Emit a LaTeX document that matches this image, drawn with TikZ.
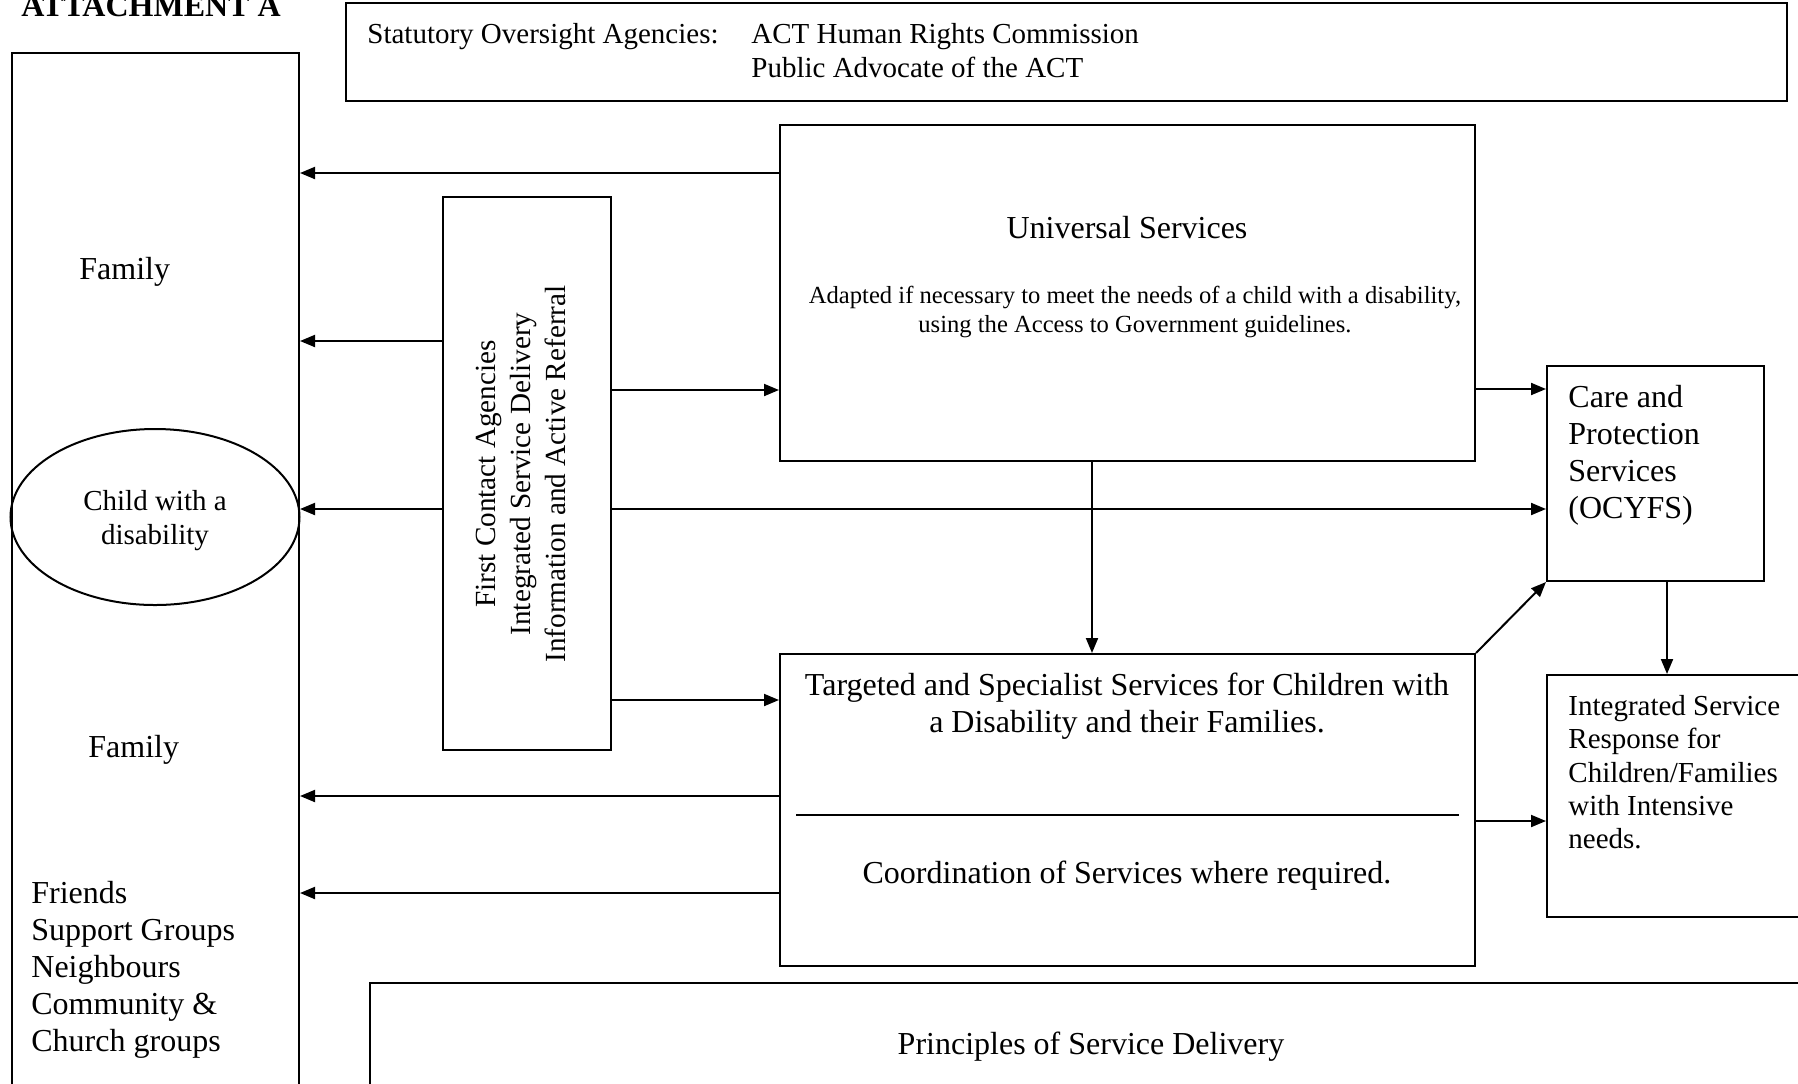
\documentclass[tikz,border=0pt]{standalone}
\usepackage{fontspec}
\setmainfont{Liberation Serif}
\usetikzlibrary{arrows.meta,fit,shapes.geometric}
\begin{document}
\begin{tikzpicture}[x=0.5pt,y=-0.5pt,
  box/.style={draw,line width=1pt,inner sep=0pt},
  arr/.style={line width=1pt,-{Triangle[length=7.5pt,width=6pt]}},
  txt/.style={inner sep=0pt,font=\fontsize{16}{18.5}\selectfont},
  stxt/.style={inner sep=0pt,font=\fontsize{14.5}{17}\selectfont},
  smalltxt/.style={inner sep=0pt,font=\fontsize{12.3}{14.5}\selectfont}]
\useasboundingbox (0,0) rectangle (1798,1083);
\clip (0,0) rectangle (1798,1083);

% title
\node[inner sep=0pt,font=\bfseries\fontsize{16}{18.5}\selectfont,anchor=base west] (att) at (21,16) {ATTACHMENT A};

% statutory oversight
\node[box,fit={(346,3.4) (1787,101)}] (stat) {};
\node[stxt,anchor=base west] (statlbl) at (367,43) {Statutory Oversight Agencies:};
\node[stxt,anchor=base west] (stat1) at (751,43) {ACT Human Rights Commission};
\node[stxt,anchor=base west] (stat2) at (751,77) {Public Advocate of the ACT};

% left column
\node[box,fit={(11.5,53) (299,1110)}] (lb) {};
\node[txt,anchor=base west] (fam1) at (79,279) {Family};
\node[txt,anchor=base west] (fam2) at (88,757) {Family};
\node[txt,align=left,anchor=north west] (friends) at (31,881)
  {Friends\\Support Groups\\Neighbours\\Community \&\\Church groups};
\node[draw,ellipse,line width=1pt,minimum width=144.5pt,minimum height=88pt,
  inner sep=0pt] (child) at (155,517) {};
\node[inner sep=0pt,align=center,font=\fontsize{14.5}{17}\selectfont] (childtxt) at (155,521)
  {Child with a\\disability};

% first contact agencies
\node[box,fit={(443,197) (611,750)}] (fca) {};
\node[rotate=90,align=center,inner sep=0pt,font=\fontsize{14.6}{17.6}\selectfont] (fcatxt) at (521,474)
  {First Contact Agencies\\Integrated Service Delivery\\Information and Active Referral};

% universal services
\node[box,fit={(780,125) (1475,461)}] (u) {};
\node[txt,anchor=base] (utitle) at (1127,238) {Universal Services};
\node[smalltxt,align=center,anchor=north] (usub) at (1135,286)
  {Adapted if necessary to meet the needs of a child with a disability,\\using the Access to Government guidelines.};

% care and protection
\node[box,fit={(1547,366) (1764,581)}] (care) {};
\node[txt,align=left,anchor=north west] (caretxt) at (1568,385)
  {Care and\\Protection\\Services\\(OCYFS)};

% integrated service response
\node[box,fit={(1547,675) (1810,917)}] (isr) {};
\node[inner sep=0pt,font=\fontsize{14.5}{16.65}\selectfont,align=left,anchor=north west] (isrtxt) at (1568,695)
  {Integrated Service\\Response for\\Children/Families\\with Intensive\\needs.};

% targeted services
\node[box,fit={(780,654) (1475,966)}] (tg) {};
\node[txt,align=center,anchor=north] (tgtxt) at (1127,673)
  {Targeted and Specialist Services for Children with\\a Disability and their Families.};
\coordinate (d1) at (796,815);
\coordinate (d2) at (1459,815);
\draw[line width=1pt] (d1) -- (d2);
\node[txt,anchor=base] (coord) at (1127,883) {Coordination of Services where required.};

% principles
\node[box,fit={(370,983) (1810,1110)}] (pr) {};
\node[txt,anchor=base] (prtxt) at (1091,1054) {Principles of Service Delivery};

% connectors
\draw[arr] (u.west |- 0,173) -- (lb.east |- 0,173);
\draw[arr] (fca.west |- 0,341) -- (lb.east |- 0,341);
\draw[arr] (fca.west |- 0,509) -- (lb.east |- 0,509);
\draw[arr] (fca.east |- 0,390) -- (u.west |- 0,390);
\draw[arr] (fca.east |- 0,509) -- (care.west |- 0,509);
\draw[arr] (fca.east |- 0,700) -- (tg.west |- 0,700);
\draw[arr] (u.east |- 0,389) -- (care.west |- 0,389);
\draw[arr] (u.south -| 1092,0) -- (tg.north -| 1092,0);
\draw[arr] (tg.west |- 0,796) -- (lb.east |- 0,796);
\draw[arr] (tg.west |- 0,893) -- (lb.east |- 0,893);
\draw[arr] (tg.north east) -- (care.south west);
\draw[arr] (care.south -| 1667,0) -- (isr.north -| 1667,0);
\draw[arr] (tg.east |- 0,821) -- (isr.west |- 0,821);
\end{tikzpicture}
\end{document}
